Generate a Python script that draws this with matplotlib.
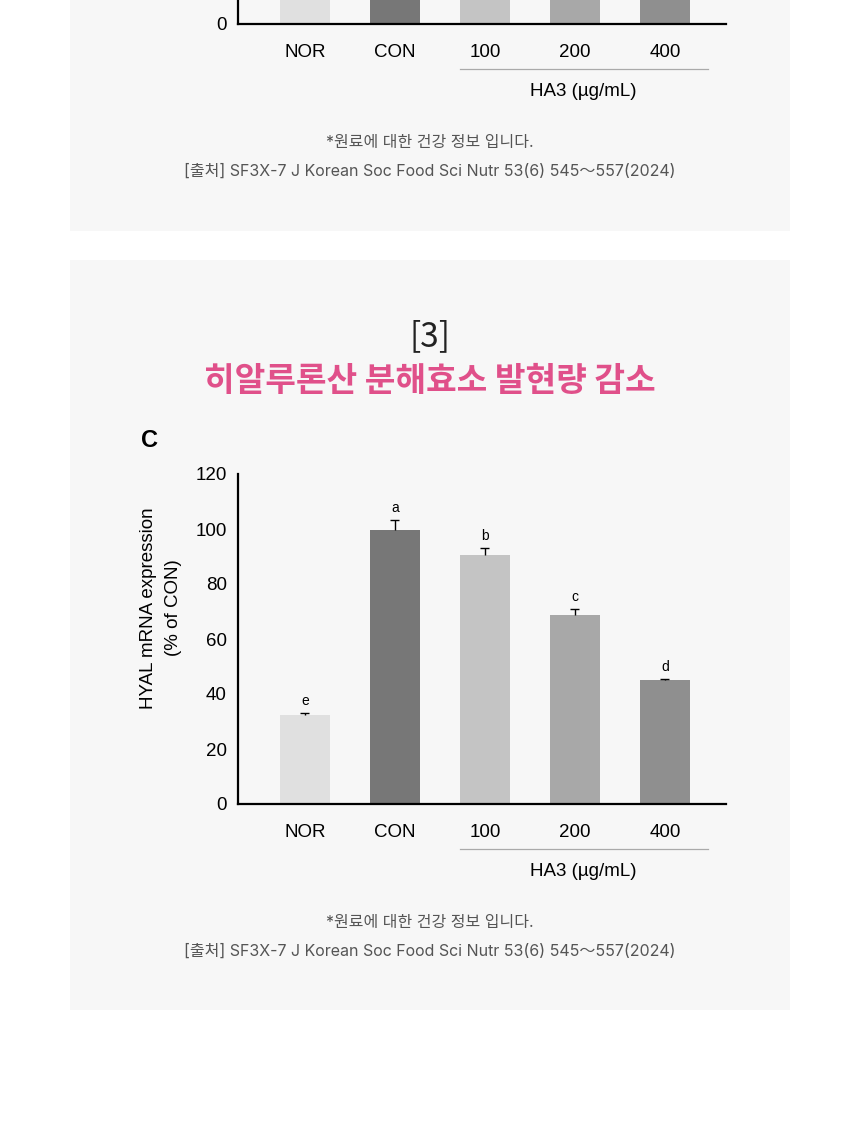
"""
plot.py
---
HYAL mRNA expression bar chart (Korean health info card).
"""

import matplotlib
matplotlib.use("Agg")
import matplotlib.pyplot as plt
from matplotlib.patches import Rectangle
from matplotlib.lines import Line2D

# Daten
categories = ["NOR", "CON", "100", "200", "400"]
hyal_values = [32.4, 99.8, 90.5, 68.8, 45.1]
hyal_errors = [0.6, 3.6, 2.5, 2.0, 0.4]
hyal_letters = ["e", "a", "b", "c", "d"]

# previous panel (only the bottom stub is visible, values are estimates)
prev_values = [40, 100, 80, 70, 55]
prev_errors = [0, 0, 0, 0, 0]
prev_letters = ["", "", "", "", ""]

bar_colors = ["#e0e0e0", "#777777", "#c4c4c4", "#a8a8a8", "#8f8f8f"]
y_ticks = [0, 20, 40, 60, 80, 100, 120]

group_label = "HA3 (\u00b5g/mL)"
ylabel_text = "HYAL mRNA expression\n(% of CON)"
note_text = "*원료에 대한 건강 정보 입니다."
source_text = "[출처] SF3X-7 J Korean Soc Food Sci Nutr 53(6) 545〜557(2024)"
number_text = "[3]"
title_text = "히알루론산 분해효소 발현량 감소"
panel_letter = "C"

W, H = 860, 1130
CHART_FONT = ["Liberation Sans", "DejaVu Sans"]
PAGE_FONT = ["Inter", "Noto Sans CJK KR", "DejaVu Sans"]
TITLE_FONT = ["Noto Sans CJK KR", "DejaVu Sans"]


def fx(x):
    return x / W


def fy(y):
    return 1 - y / H


def draw_chart(fig, y0, values, errors, letters, ticks, show_labels=True):
    """Bar chart; y0 = pixel row of the x axis."""
    ax = fig.add_axes([fx(238), fy(y0), (726 - 238) / W, 330 / H])
    ax.set_facecolor("none")
    x = list(range(len(categories)))
    ax.bar(x, values, width=0.56, color=bar_colors, zorder=2)

    tops = [v + e for v, e in zip(values, errors)]
    ax.vlines(x, values, tops, color="black", lw=1.0, zorder=3)
    ax.hlines(tops, [i - 0.05 for i in x], [i + 0.05 for i in x],
              color="black", lw=1.0, zorder=3)
    for xi, t, lab in zip(x, tops, letters):
        if lab:
            ax.text(xi, t + 1.8, lab, ha="center", va="bottom", fontsize=10,
                    family=CHART_FONT)

    ax.set_xlim(-0.744, 4.678)
    ax.set_ylim(0, 120)
    ax.set_yticks(ticks)
    ax.set_xticks(x)
    ax.set_xticklabels(categories)
    ax.tick_params(length=0, labelsize=13.5)
    ax.tick_params(axis="y", pad=8)
    ax.tick_params(axis="x", pad=14.5)
    for lab in ax.get_xticklabels() + ax.get_yticklabels():
        lab.set_family(CHART_FONT)
    for s in ["top", "right"]:
        ax.spines[s].set_visible(False)
    for s in ["left", "bottom"]:
        ax.spines[s].set_linewidth(1.6)

    if show_labels:
        fig.text(fx(161), fy(608), ylabel_text, rotation=90, ha="center",
                 va="center", fontsize=13.5, family=CHART_FONT, linespacing=1.55,
                 multialignment="center")

    fig.add_artist(Line2D([fx(460), fx(708)], [fy(y0 + 45), fy(y0 + 45)],
                          color="#aaaaaa", lw=0.9, transform=fig.transFigure))
    fig.text(fx(583), fy(y0 + 68), group_label, ha="center", va="center",
             fontsize=13.5, family=CHART_FONT)
    fig.text(fx(430), fy(y0 + 119), note_text, ha="center", va="center",
             fontsize=11.5, color="#555555", family=PAGE_FONT)
    fig.text(fx(430), fy(y0 + 147), source_text, ha="center", va="center",
             fontsize=11.5, color="#555555", family=PAGE_FONT)
    return ax


fig = plt.figure(figsize=(W / 100, H / 100), dpi=100)
fig.patch.set_facecolor("white")

# Hintergrund-Karten
for top, bottom in [(-10, 231), (260, 1010)]:
    fig.add_artist(Rectangle((fx(70), fy(bottom)), (790 - 70) / W,
                             (bottom - top) / H, transform=fig.transFigure,
                             facecolor="#f7f7f7", edgecolor="none", zorder=0))

# obere (abgeschnittene) Grafik: nur die 0 ist sichtbar
draw_chart(fig, 24, prev_values, prev_errors, prev_letters, y_ticks[:1],
           show_labels=False)

# Hauptgrafik
fig.text(fx(430), fy(337), number_text, ha="center", va="center",
         fontsize=24, color="#222222", family=TITLE_FONT, fontweight="light")
fig.text(fx(430), fy(382), title_text, ha="center", va="center",
         fontsize=24, color="#e0508a", family=TITLE_FONT, fontweight="bold")
fig.text(fx(141), fy(441), panel_letter, ha="left", va="center",
         fontsize=17, fontweight="bold", family=CHART_FONT)
draw_chart(fig, 804, hyal_values, hyal_errors, hyal_letters, y_ticks)

fig.savefig("out.png", dpi=100)
